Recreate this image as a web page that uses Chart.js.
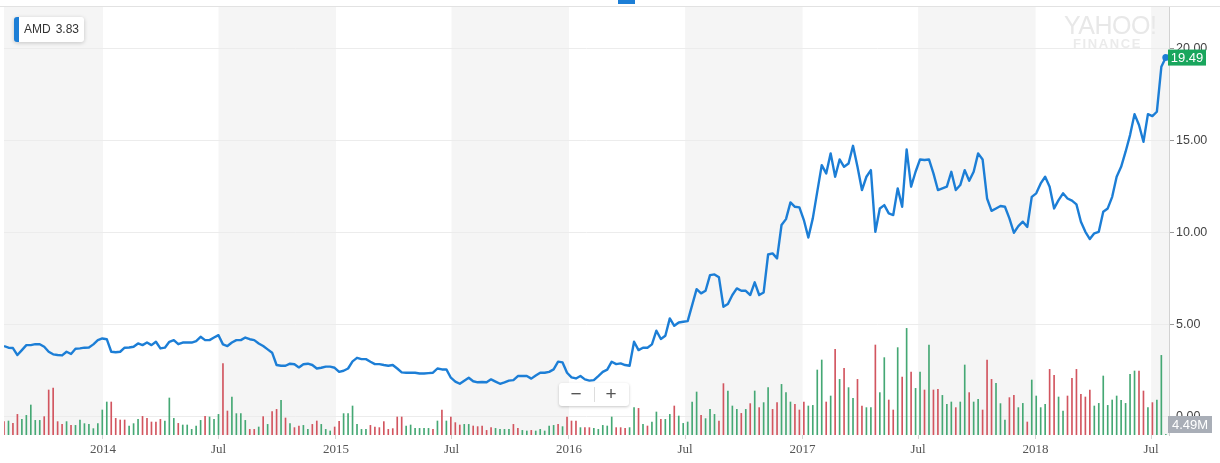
<!DOCTYPE html>
<html>
<head>
<meta charset="utf-8">
<script src="https://cdn.jsdelivr.net/npm/chart.js@4.4.1/dist/chart.umd.min.js"></script>
<style>
  html, body { margin: 0; padding: 0; background: #fff; }
  #wrap { position: relative; width: 1220px; height: 463px; overflow: hidden; font-family: "Liberation Sans", Arial, sans-serif; }
  #chart { position: absolute; left: 0; top: 0; }
  .legend { position: absolute; left: 14px; top: 17px; width: 70px; height: 25px; box-sizing: border-box;
    background: #fff; border-radius: 3px; border-left: 5px solid #1c7ed6; box-shadow: 0 1px 4px rgba(0,0,0,.2);
    font-size: 12px; color: #333; line-height: 25px; padding-left: 5px; white-space: nowrap; }
  .legend span { margin-left: 5px; }
  .mark { position: absolute; left: 1064px; top: 12px; color: #e8e8e8; font-size: 25px; letter-spacing: -0.5px; line-height: 26px; }
  .mark2 { position: absolute; left: 1073px; top: 37px; color: #ebebeb; font-size: 13px; font-weight: bold; letter-spacing: 1.6px; line-height: 14px; }
  .zoom { position: absolute; left: 559px; top: 383px; width: 70px; height: 23px; background: #fff; border-radius: 3px;
    box-shadow: 0 1px 3px rgba(0,0,0,.22); color: #555; font-size: 19px; line-height: 22px; }
  .zoom .m { position: absolute; left: 9px; top: 0; width: 16px; text-align: center; }
  .zoom .p { position: absolute; left: 44px; top: 0; width: 16px; text-align: center; }
  .zoom .d { position: absolute; left: 35px; top: 4px; width: 1px; height: 15px; background: #ddd; }
  .handle { position: absolute; left: 618px; top: 0; width: 17px; height: 4px; background: #1c7ed6; }
</style>
</head>
<body>
<div id="wrap">
  <canvas id="chart" width="1220" height="463"></canvas>
  <div class="legend" id="legend"></div>
  <div class="mark">YAHOO!</div>
  <div class="mark2">FINANCE</div>
  <div class="zoom"><span class="m">−</span><span class="d"></span><span class="p">+</span></div>
  <div class="handle"></div>
</div>
<script>
// weekly closes, AMD, from the week of 2013-07-30
const symbol = 'AMD';
const startDate = '2013-07-30';
const price = [
  3.83,3.74,3.72,3.34,3.61,3.88,3.88,3.93,3.93,3.79,
  3.52,3.38,3.34,3.32,3.52,3.40,3.68,3.70,3.74,3.75,
  3.92,4.15,4.24,4.20,3.52,3.49,3.52,3.74,3.75,3.79,
  3.97,3.88,4.02,3.88,4.06,3.70,3.74,4.06,4.15,3.93,
  4.02,4.02,4.02,4.10,4.33,4.15,4.15,4.29,4.42,3.92,
  3.83,4.02,4.15,4.15,4.29,4.20,4.15,3.97,3.83,3.65,
  3.47,2.80,2.76,2.76,2.87,2.84,2.67,2.84,2.87,
  2.80,2.61,2.65,2.71,2.71,2.65,2.43,2.49,2.61,3.00,
  3.19,3.12,3.12,2.98,2.85,2.85,2.80,2.76,2.80,2.61,
  2.40,2.38,2.38,2.38,2.34,2.34,2.36,2.38,2.61,2.56,
  2.56,2.11,1.90,1.78,1.95,2.11,1.92,1.86,1.88,1.86,
  2.02,1.90,1.78,1.86,1.95,1.98,2.20,2.20,2.20,2.06,
  2.23,2.38,2.38,2.43,2.56,2.98,2.94,2.38,2.13,2.07,
  2.20,2.02,1.95,1.98,2.20,2.43,2.55,
  2.98,2.85,2.89,2.80,2.76,4.06,3.61,3.74,3.74,3.92,
  4.66,4.21,4.39,5.33,4.93,5.11,5.15,5.18,6.05,6.92,
  6.69,6.83,7.68,7.72,7.56,5.96,6.11,6.60,6.96,6.83,
  6.83,6.60,7.29,6.60,6.74,8.80,8.86,8.59,10.40,10.72,
  11.63,11.39,11.36,10.67,9.72,
  10.76,12.21,13.65,13.20,14.29,13.02,13.96,13.56,13.74,14.70,
  13.56,12.30,13.02,13.38,10.03,11.30,11.48,11.03,10.94,12.39,
  11.39,14.50,12.48,13.29,13.96,13.93,13.96,13.20,12.30,12.39,
  12.48,13.29,12.30,12.57,13.38,12.80,13.29,14.29,13.96,11.84,
  11.17,11.30,11.43,11.39,10.76,
  9.98,10.34,10.58,10.30,11.93,12.12,12.66,13.02,12.48,11.30,
  11.75,12.12,11.84,11.72,11.52,10.58,10.03,9.64,9.95,10.03,
  11.12,11.30,11.93,13.02,13.56,14.38,15.28,16.42,15.83,14.92,
  16.42,16.31,16.55,18.99,19.49
];
// weekly volume, millions of shares
const volume = [
  107,112,93,165,125,157,240,117,117,147,
  360,376,107,85,107,77,77,120,91,85,
  51,91,200,264,264,133,120,120,72,91,
  125,149,133,104,104,125,112,296,133,93,
  80,80,45,72,117,149,144,125,165,571,
  192,304,171,171,117,45,45,64,147,85,
  187,205,277,136,91,59,72,77,45,85,
  112,85,45,32,64,109,171,171,232,85,
  45,45,77,64,59,107,45,51,144,
  144,72,80,53,53,53,53,45,112,200,
  112,144,99,80,85,85,72,67,72,37,
  59,53,45,45,45,85,53,37,32,37,
  32,45,32,72,77,85,67,144,112,112,
  59,59,59,53,45,77,72,144,59,59,
  53,59,219,213,85,72,104,184,125,125,
  165,232,152,93,104,264,344,157,131,205,
  165,112,411,352,232,205,173,205,251,352,
  219,259,379,205,259,405,339,264,245,
  200,264,232,237,520,600,264,312,685,445,
  533,379,293,445,232,219,219,720,339,619,
  280,200,699,464,853,504,373,504,360,720,
  360,365,317,245,264,219,264,560,339,264,
  285,200,600,445,413,251,120,299,317,219,
  253,104,440,312,219,245,525,477,304,192,
  312,453,525,325,304,360,232,253,472,237,
  280,312,277,253,485,512,512,352,219,259,
  280,637,4.49
];
// g = up week, r = down week
const direction = (
  'rgrrgggggr' + 'rrrrgrgggg' + 'ggggrrrrgg' + 'grrrrrgggr' + 'gggggrgggr' +
  'rggggrrgrg' + 'rrgrgrrggr' + 'rgggrrgggg' + 'ggrrrrrrr' +
  'rggggggrgr' + 'grrrggrrrr' + 'rggggrrggr' + 'gggggrgrrr' + 'grrgggggrr' +
  'rggrgrggrg' + 'grgggggrgg' + 'grrgggrgrg' + 'rggrrgggr' +
  'rrggggrgrg' + 'rggrrggrgg' + 'rrgrgrggrg' + 'rrgggrggrg' + 'grrrgggrrg' +
  'grggggrrgg' + 'rrrrrrgggg' + 'ggggggrrgr' + 'ggg'
).split('');
const tickDates = ['2014-01-01','2014-07-01','2015-01-01','2015-07-01','2016-01-01',
                   '2016-07-01','2017-01-01','2017-07-01','2018-01-01','2018-07-01'];
const tickLabels = ['2014','Jul','2015','Jul','2016','Jul','2017','Jul','2018','Jul'];
const priceTicks = [0, 5, 10, 15, 20];
const lastVolumeLabel = '4.49M';

const BLUE = '#1c7ed6', GREEN = '#45a874', RED = '#d2555f';

function toDay(s) { return Date.parse(s + 'T00:00:00Z') / 864e5; }
const day0 = toDay(startDate);
const days = price.map((_, i) => day0 + 7 * i);
const lastIdx = price.length - 1;

document.getElementById('legend').innerHTML = symbol + '<span>' + price[0].toFixed(2) + '</span>';

const bands = {
  id: 'bands',
  beforeDraw(chart) {
    const { ctx, chartArea: a, scales: { x } } = chart;
    ctx.save();
    ctx.fillStyle = '#fff';
    ctx.fillRect(0, 0, chart.width, chart.height);
    ctx.fillStyle = '#f5f5f5';
    const edges = [x.min].concat(tickDates.map(toDay), [x.max]);
    // grey from Jul to Jan, and before the first Jan
    for (let i = 0; i < edges.length - 1; i++) {
      const startsJul = i === 0 || tickLabels[i - 1] === 'Jul';
      if (!startsJul) continue;
      const x1 = Math.max(a.left, x.getPixelForValue(edges[i]));
      const x2 = Math.min(a.right, x.getPixelForValue(edges[i + 1]));
      ctx.fillRect(x1, a.top, x2 - x1, a.bottom - a.top);
    }
    ctx.restore();
  },
  afterDraw(chart) {
    const { ctx, chartArea: a, scales: { y } } = chart;
    ctx.save();
    ctx.fillStyle = '#e2e2e2';
    ctx.fillRect(0, a.top, chart.width, 1);
    // last price tag
    const py = y.getPixelForValue(price[lastIdx]);
    ctx.fillStyle = '#19a65d';
    ctx.fillRect(a.right - 1, py - 8, 38, 16);
    ctx.fillStyle = '#fff';
    ctx.font = '13px "Liberation Sans", Arial, sans-serif';
    ctx.textAlign = 'center';
    ctx.textBaseline = 'middle';
    ctx.fillText(price[lastIdx].toFixed(2), a.right + 18, py + 1);
    // last volume tag
    ctx.fillStyle = '#a9aeb7';
    ctx.fillRect(a.right - 1, a.bottom - 19, 44, 17);
    ctx.fillStyle = '#fff';
    ctx.fillText(lastVolumeLabel, a.right + 21, a.bottom - 10);
    ctx.restore();
  }
};

new Chart(document.getElementById('chart'), {
  type: 'line',
  data: {
    datasets: [
      {
        type: 'line',
        data: price.map((v, i) => ({ x: days[i], y: v })),
        yAxisID: 'y',
        borderColor: BLUE,
        backgroundColor: BLUE,
        borderWidth: 2.4,
        borderJoinStyle: 'round',
        tension: 0,
        pointRadius: c => c.dataIndex === lastIdx ? 3.5 : 0,
        pointBorderWidth: 0,
        order: 0
      },
      {
        type: 'bar',
        data: volume.map((v, i) => ({ x: days[i], y: v })),
        yAxisID: 'vol',
        backgroundColor: direction.map(d => d === 'g' ? GREEN : RED),
        barThickness: 1,
        order: 1
      }
    ]
  },
  options: {
    responsive: false,
    devicePixelRatio: 1,
    animation: false,
    layout: { padding: { left: 4, top: 6, right: 0, bottom: 0 } },
    plugins: { legend: { display: false }, tooltip: { enabled: false } },
    scales: {
      x: {
        type: 'linear',
        min: days[0],
        max: days[lastIdx] + 5,
        offset: false,
        afterFit: s => { s.height = 28; s.paddingLeft = 0; s.paddingRight = 0; },
        afterBuildTicks: s => { s.ticks = tickDates.map(d => ({ value: toDay(d) })); },
        ticks: {
          autoSkip: false, maxRotation: 0, padding: 3, color: '#555',
          font: { family: '"Liberation Serif", "DejaVu Serif", serif', size: 13 },
          callback: (v, i) => tickLabels[i]
        },
        grid: { drawOnChartArea: false, tickLength: 4, color: '#d4d4d4', offset: false },
        border: { display: false }
      },
      y: {
        type: 'linear',
        position: 'right',
        min: -1.0,
        max: 22.29,
        afterFit: s => { s.width = 51; s.paddingTop = 0; s.paddingBottom = 0; },
        afterBuildTicks: s => { s.ticks = priceTicks.map(v => ({ value: v })); },
        ticks: {
          padding: 2, color: '#444',
          font: { family: '"Liberation Sans", Arial, sans-serif', size: 12.5 },
          callback: v => v.toFixed(2)
        },
        grid: { color: '#ececec', tickLength: 5, tickColor: '#9a9a9a' },
        border: { display: true, color: '#d2d2d2' }
      },
      vol: { type: 'linear', display: false, min: 0, max: 3432 }
    }
  },
  plugins: [bands]
});
</script>
</body>
</html>
